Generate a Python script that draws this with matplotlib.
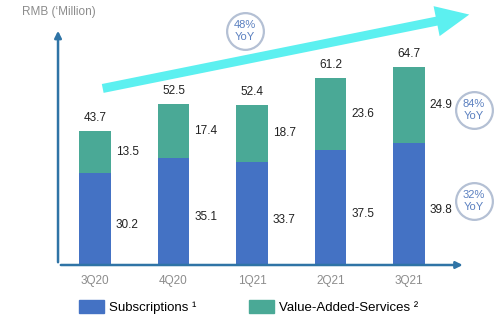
import matplotlib
matplotlib.use("Agg")
import matplotlib.pyplot as plt
from matplotlib.patches import Patch

plt.rcParams['font.family'] = ['Liberation Sans', 'DejaVu Sans']

quarters = ["3Q20", "4Q20", "1Q21", "2Q21", "3Q21"]
subscriptions = [30.2, 35.1, 33.7, 37.5, 39.8]
vas = [13.5, 17.4, 18.7, 23.6, 24.9]
totals = [43.7, 52.5, 52.4, 61.2, 64.7]
yoy_labels = ["48%\nYoY", "84%\nYoY", "32%\nYoY"]

blue = "#4472c4"
teal = "#4aa996"
axis_col = "#2f74a6"
grey = "#8c8c8c"
yoy_col = "#5b80c0"
ring_col = "#b4c0d4"

fig = plt.figure(figsize=(5, 3.23), dpi=100)
# axes from pixel x=58 to 500, y=265 up to 0
ax = fig.add_axes([58 / 500, 58 / 323, 442 / 500, 265 / 323])
px_per_unit = 3.06
ax.set_ylim(0, 265 / px_per_unit)
ax.set_xlim((58 - 95) / 78.5, (500 - 95) / 78.5)
ax.axis("off")

x = list(range(len(quarters)))
w = 0.395
ax.bar(x, subscriptions, width=w, color=blue)
ax.bar(x, vas, width=w, bottom=subscriptions, color=teal)

for i in x:
    ax.annotate(f"{totals[i]}", (i, totals[i]), xytext=(0, 5), textcoords="offset points",
                ha="center", va="bottom", fontsize=8.5, color="#222222")
    ax.text(i + 0.41, subscriptions[i] / 2 - 2, f"{subscriptions[i]}", ha="center", va="center",
            fontsize=8.5, color="#222222")
    ax.text(i + 0.41, subscriptions[i] + vas[i] / 2, f"{vas[i]}", ha="center", va="center",
            fontsize=8.5, color="#222222")
    ax.text(i, -16 / px_per_unit, quarters[i], ha="center", va="center", fontsize=8.5, color=grey)

# axes with arrows
ax.annotate("", xy=(-0.471, (265 - 28) / px_per_unit), xytext=(-0.471, 0),
            arrowprops=dict(arrowstyle="-|>", color=axis_col, lw=1.8, mutation_scale=10),
            annotation_clip=False)
ax.annotate("", xy=(4.72, 0), xytext=(-0.471, 0),
            arrowprops=dict(arrowstyle="-|>", color=axis_col, lw=1.8, mutation_scale=10),
            annotation_clip=False)

# big cyan growth arrow
ax.annotate("", xy=((472 - 95) / 78.5, (265 - 14) / px_per_unit),
            xytext=((100 - 95) / 78.5, (265 - 89) / px_per_unit),
            arrowprops=dict(arrowstyle="simple,head_length=2.4,head_width=2.2,tail_width=0.65",
                            color="#5cf0f0", mutation_scale=10, lw=0),
            annotation_clip=False)

# YoY rings
ring_pos = [(245, 31), (474, 110), (474, 201)]
for (px, py), lab in zip(ring_pos, yoy_labels):
    dx = (px - 95) / 78.5
    dy = (265 - py) / px_per_unit
    ax.scatter([dx], [dy], s=700, facecolors="white", edgecolors=ring_col, linewidths=1.6,
               clip_on=False, zorder=4)
    ax.text(dx, dy, lab, ha="center", va="center", fontsize=8, color=yoy_col,
            linespacing=1.2, zorder=5)

fig.text(22 / 500, 1 - 12 / 323, "RMB (‘Million)", ha="left", va="center", fontsize=8.5, color=grey)

handles = [Patch(color=blue, label="Subscriptions ¹"),
           Patch(color=teal, label="Value-Added-Services ²")]
fig.legend(handles=handles, loc="center left", bbox_to_anchor=(72 / 500, 1 - 307 / 323), ncol=2,
           frameon=False, fontsize=9.5, handlelength=1.9, handleheight=1.1, handletextpad=0.4,
           columnspacing=4.0, borderpad=0)

fig.savefig("out.png", dpi=100)
